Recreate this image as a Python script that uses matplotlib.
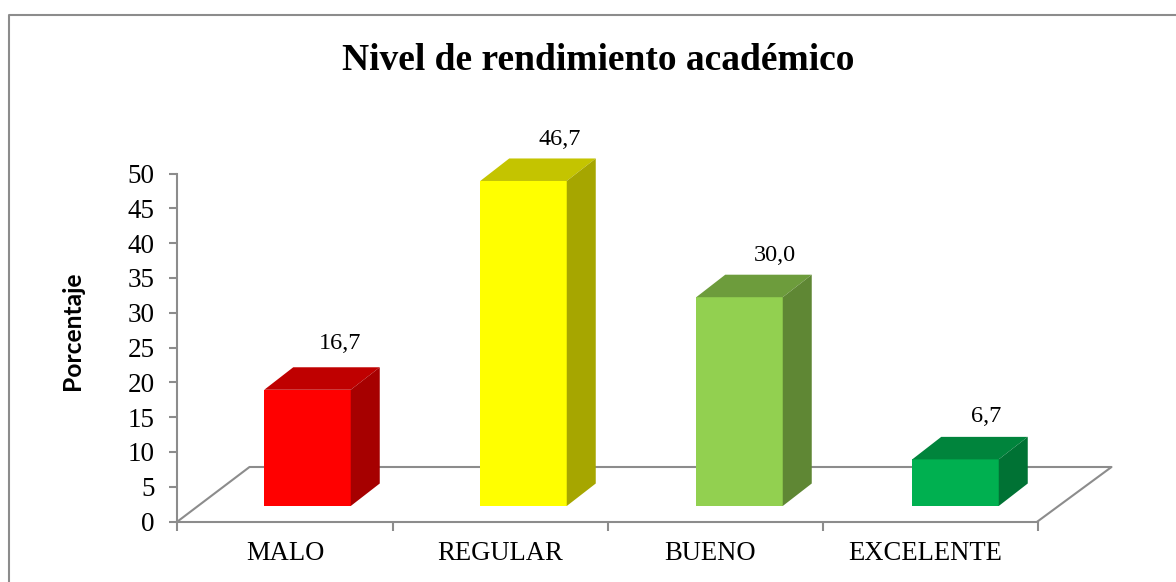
import matplotlib
matplotlib.use('Agg')
import matplotlib.pyplot as plt
from matplotlib.patches import Polygon

categorias = ['MALO', 'REGULAR', 'BUENO', 'EXCELENTE']
valores = [16.7, 46.7, 30.0, 6.7]
etiquetas = ['16,7', '46,7', '30,0', '6,7']
colores = ['#ff0000', '#ffff00', '#92d050', '#00b050']
colores_top = ['#bf0000', '#c4c400', '#6d9c3c', '#00843c']
colores_lado = ['#a60000', '#a6a600', '#5f8734', '#007234']

W, H = 1176, 582
plt.rcParams['font.family'] = 'Liberation Serif'

fig = plt.figure(figsize=(W / 100, H / 100), dpi=100)
ax = fig.add_axes([177.5 / W, 1 - 521.5 / H, 860 / W, 348 / H])
ax.set_xlim(0, 4)
ax.set_ylim(0, 50)

# escala: 215 px por categoria, 6.96 px por unidad
px_x = 1 / 215
px_y = 50 / 348
dx = 29 * px_x
dy = 22.5 * px_y
base = 15.5 * px_y
ancho = 86.5 * px_x
gris = '#8c8c8c'

# desplazamiento de las etiquetas respecto a la barra (px)
eti_dx = [-11, -7, -8, -13]
eti_dy = [24, 19, 19, 20]
# centro de los nombres de categoria (px)
cat_px = [285, 500, 710, 925]

# suelo
piso_x = 72 * px_x
piso_y = 54.5 * px_y
ax.plot([0, piso_x, 4 + 74 * px_x, 4], [0, piso_y, piso_y, 0], color=gris, lw=1.5,
        clip_on=False, zorder=1)

for i, v in enumerate(valores):
    c = (307.5 - 177.5 + 216 * i) * px_x
    x0 = c - ancho / 2
    x1 = c + ancho / 2
    top = base + v
    ax.bar(c, v, ancho, bottom=base, color=colores[i], zorder=3)
    ax.add_patch(Polygon([(x0, top), (x0 + dx, top + dy), (x1 + dx, top + dy), (x1, top)],
                         closed=True, fc=colores_top[i], ec='none', clip_on=False, zorder=3))
    ax.add_patch(Polygon([(x1, base), (x1 + dx, base + dy), (x1 + dx, top + dy), (x1, top)],
                         closed=True, fc=colores_lado[i], ec='none', clip_on=False, zorder=3))
    ax.text(x1 + eti_dx[i] * px_x, top + dy + eti_dy[i] * px_y, etiquetas[i], ha='center', va='center',
            fontsize=17.5, clip_on=False)

for s in ['top', 'right']:
    ax.spines[s].set_visible(False)
for s in ['left', 'bottom']:
    ax.spines[s].set_color(gris)
    ax.spines[s].set_linewidth(1.5)

ax.set_xticks(range(5))
ax.set_xticklabels([])
ax.set_yticks(range(0, 51, 5))
ax.tick_params(axis='y', labelsize=19.5, length=5.8, width=1.5, color=gris, direction='out', pad=10.8)
ax.tick_params(axis='x', length=6.5, width=1.5, color=gris, direction='out')
for i, cat in enumerate(categorias):
    ax.text((cat_px[i] - 177.5) * px_x, -32.5 * px_y, cat, ha='center', va='center',
            fontsize=19.2, clip_on=False)

fig.text(73 / W, 1 - 331 / H, 'Porcentaje', rotation=90, ha='center', va='center',
         fontsize=17.7, fontweight='bold', family='Lato')
fig.text(598 / W, 1 - 61 / H, 'Nivel de rendimiento académico', ha='center', va='center',
         fontsize=27, fontweight='bold')

# borde: solo izquierda y arriba, el resto queda fuera de la imagen
fig.add_artist(plt.Line2D([9 / W, 9 / W, 1], [0, 1 - 15 / H, 1 - 15 / H],
                          transform=fig.transFigure, color=gris, lw=1.5))

fig.savefig('out.png', dpi=100)
